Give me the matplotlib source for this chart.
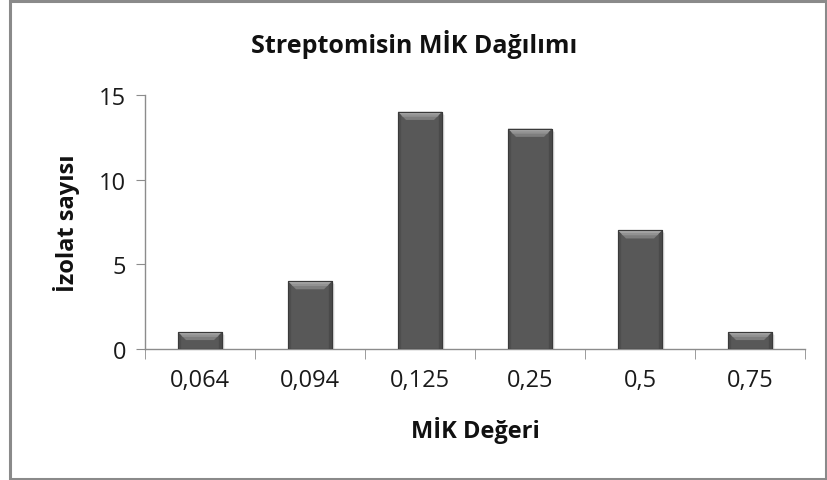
import matplotlib
matplotlib.use("Agg")
import matplotlib.pyplot as plt
from matplotlib.patches import Polygon, Rectangle
import numpy as np

plt.rcParams['font.family'] = ['Open Sans', 'DejaVu Sans']

mic_values = ["0,064", "0,094", "0,125", "0,25", "0,5", "0,75"]
isolate_counts = [1, 4, 14, 13, 7, 1]
y_ticks = [0, 5, 10, 15]

W, H = 828, 481
fig = plt.figure(figsize=(W / 100, H / 100), dpi=100)

# outer chart border
fig.add_artist(Rectangle((9.5 / W, 1.5 / H), (W - 11) / W, (H - 3) / H,
                         transform=fig.transFigure, fill=False,
                         edgecolor='#8a8a8a', linewidth=2.2))

left, right, bottom, top = 145, 805, 350, 96
ax = fig.add_axes([left / W, (H - bottom) / H, (right - left) / W, (bottom - top) / H])

x = np.arange(len(mic_values))
bar_w = 0.4
ax.set_xlim(-0.5, len(mic_values) - 0.5)
ax.set_ylim(0, 15)

px_x = (right - left) / len(mic_values)   # pixels per x unit
px_y = (bottom - top) / 15.0              # pixels per y unit

bars = ax.bar(x, isolate_counts, width=bar_w, color='#585858',
              edgecolor='#3a3a3a', linewidth=0.8, zorder=3)

bev = 8  # bevel size in pixels
for rect in bars:
    x0, w, h = rect.get_x(), rect.get_width(), rect.get_height()
    bx, by = bev / px_x, bev / px_y
    # soft shadow
    for k, a in [(3, 0.06), (2, 0.09), (1, 0.12)]:
        ax.add_patch(Rectangle((x0 + k / px_x, -k / px_y), w, h, facecolor='black',
                               alpha=a, edgecolor='none', zorder=2))
    # top bevel with a light gradient
    ax.add_patch(Polygon([(x0, h), (x0 + w, h), (x0 + w - bx, h - by), (x0 + bx, h - by)],
                         closed=True, facecolor='#7e7e7e', edgecolor='none', zorder=4))
    ax.add_patch(Polygon([(x0, h), (x0 + w, h), (x0 + w - bx * 0.6, h - by * 0.6),
                          (x0 + bx * 0.6, h - by * 0.6)],
                         closed=True, facecolor='#929292', edgecolor='none', zorder=4))
    ax.add_patch(Polygon([(x0, h), (x0 + w, h), (x0 + w - bx * 0.3, h - by * 0.3),
                          (x0 + bx * 0.3, h - by * 0.3)],
                         closed=True, facecolor='#a6a6a6', edgecolor='none', zorder=4))
    # subtle side bevels
    ax.add_patch(Polygon([(x0, 0), (x0, h), (x0 + bx * 0.4, h - by * 0.4), (x0 + bx * 0.4, 0)],
                         closed=True, facecolor='#4e4e4e', edgecolor='none', zorder=4))
    ax.add_patch(Polygon([(x0 + w, 0), (x0 + w, h), (x0 + w - bx * 0.4, h - by * 0.4),
                          (x0 + w - bx * 0.4, 0)],
                         closed=True, facecolor='#4a4a4a', edgecolor='none', zorder=4))
    ax.add_patch(Rectangle((x0, 0), w, h, facecolor='none', edgecolor='#3a3a3a',
                           linewidth=0.8, zorder=5))

for s in ['top', 'right']:
    ax.spines[s].set_visible(False)
for s in ['left', 'bottom']:
    ax.spines[s].set_color('#8c8c8c')
    ax.spines[s].set_linewidth(1.0)

ax.set_yticks(y_ticks)
ax.set_yticklabels([str(v) for v in y_ticks])
ax.tick_params(axis='y', direction='out', length=6.5, color='#8c8c8c', labelsize=17,
               pad=7, labelcolor='#1a1a1a')

ax.set_xticks(x)
ax.set_xticklabels(mic_values)
ax.set_xticks(np.arange(-0.5, len(mic_values)), minor=True)
ax.tick_params(axis='x', which='major', length=0, labelsize=17, pad=14, labelcolor='#1a1a1a')
ax.tick_params(axis='x', which='minor', direction='out', length=7, color='#8c8c8c')

ax.set_xlabel("MİK Değeri", fontsize=17, fontweight='bold', labelpad=17, color='#111111')
ax.set_ylabel("İzolat sayısı", fontsize=17, fontweight='bold', labelpad=14, color='#111111')
fig.text(0.5, (H - 45) / H, "Streptomisin MİK Dağılımı", ha='center',
         va='center', fontsize=18, fontweight='bold', color='#111111')

fig.savefig("out.png", dpi=100)
